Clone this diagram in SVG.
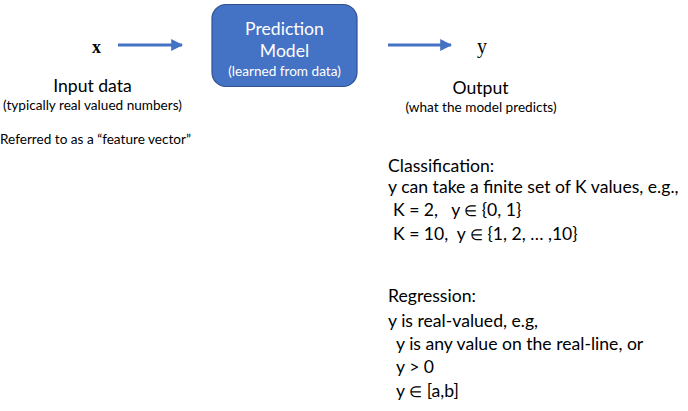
<svg xmlns="http://www.w3.org/2000/svg" width="688" height="411" viewBox="0 0 688 411">
<style>
.t{font-family:Lato,"Open Sans","Liberation Sans",sans-serif;fill:#000}
.s{font-family:"Liberation Serif","DejaVu Serif",serif;fill:#000}
.w{font-family:Lato,"Open Sans","Liberation Sans",sans-serif;fill:#fff}
.b{font-size:17.6px}
.m{font-size:13.6px}
.e{font-size:15px}
.c{stroke:#4472C4;stroke-width:3;fill:none}
</style>
<defs>
<marker id="ah" viewBox="0 0 10 10" refX="9" refY="5" markerWidth="4" markerHeight="4" orient="auto" markerUnits="strokeWidth">
<path d="M0,0 L10,5 L0,10 z" fill="#4472C4"/>
</marker>
</defs>
<rect width="688" height="411" fill="#fff"/>
<g id="connectors">
<line class="c" x1="118" y1="45" x2="182" y2="45" marker-end="url(#ah)"/>
<line class="c" x1="388" y1="45" x2="451" y2="45" marker-end="url(#ah)"/>
</g>
<g id="input">
<text class="s" x="96.5" y="53" font-size="18" font-weight="bold" text-anchor="middle">x</text>
<text class="t b" x="92.5" y="92" text-anchor="middle">Input data</text>
<text class="t m" x="92.5" y="110" text-anchor="middle">(typically real valued numbers)</text>
<text class="t m" x="0" y="144">Referred to as a “feature vector”</text>
</g>
<g id="model">
<rect x="212" y="4.5" width="145" height="82" rx="14" fill="#4472C4" stroke="#2F528F" stroke-width="1.2"/>
<text class="w b" x="284.5" y="35" text-anchor="middle">Prediction</text>
<text class="w b" x="284.5" y="57" text-anchor="middle">Model</text>
<text class="w m" x="284.5" y="76" text-anchor="middle">(learned from data)</text>
</g>
<g id="output">
<text class="s" x="477" y="53" font-size="20">y</text>
<text class="t b" x="480.5" y="94" text-anchor="middle">Output</text>
<text class="t m" x="481" y="112" text-anchor="middle">(what the model predicts)</text>
</g>
<g id="classification">
<text class="t b" x="388" y="172">Classification:</text>
<text class="t b" x="388" y="193">y can take a finite set of K values, e.g.,</text>
<text class="t b" x="393" y="216" xml:space="preserve">K = 2,   y <tspan class="e">∈</tspan> {0, 1}</text>
<text class="t b" x="393" y="240" xml:space="preserve">K = 10,  y <tspan class="e">∈</tspan> {1, 2, … ,10}</text>
</g>
<g id="regression">
<text class="t b" x="388" y="302">Regression:</text>
<text class="t b" x="388" y="327">y is real-valued, e.g,</text>
<text class="t b" x="396" y="350">y is any value on the real-line, or</text>
<text class="t b" x="396" y="373">y &gt; 0</text>
<text class="t b" x="396" y="397">y <tspan class="e">∈</tspan> [a,b]</text>
</g>
</svg>
